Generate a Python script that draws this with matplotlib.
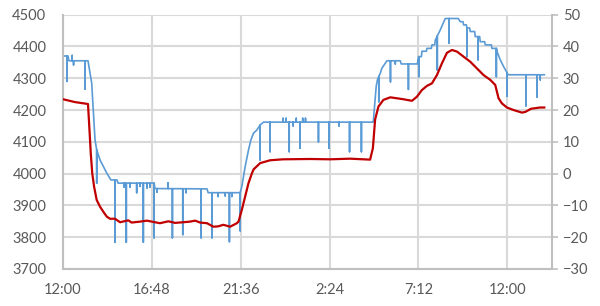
import matplotlib.pyplot as plt
import numpy as np

plt.rcParams['font.family'] = ['Lato', 'DejaVu Sans']

# time in hours after 12:00
blue_t = [0.00, 0.27, 0.32, 1.35, 1.55, 1.73, 1.82, 2.00, 2.36, 2.59, 2.92, 2.97,
          4.92, 4.97, 7.78, 7.84, 9.57, 9.66, 9.84, 10.02, 10.15, 10.29, 10.47,
          10.65, 10.83, 16.76, 16.92, 16.99, 17.14, 17.23, 17.41, 17.50, 18.22,
          18.27, 19.14, 19.21, 19.36, 19.39, 19.63, 19.66, 19.90, 19.93, 20.08,
          20.11, 20.38, 20.65, 21.35, 21.46, 21.61, 21.64, 21.79, 21.82, 21.97,
          22.00, 22.24, 22.27, 22.51, 22.54, 22.78, 22.81, 23.14, 23.17, 23.41,
          23.44, 23.62, 23.80, 23.98, 24.05, 26.00]
blue_v = [4370, 4370, 4355, 4355, 4285, 4106, 4075, 4043, 4002, 3980, 3980, 3970,
          3970, 3953, 3952, 3940, 3940, 3959, 4022, 4074, 4106, 4127, 4137,
          4153, 4162, 4162, 4275, 4296, 4316, 4332, 4347, 4355, 4355,
          4345, 4345, 4368, 4368, 4385, 4385, 4394, 4394, 4405, 4405,
          4420, 4452, 4488, 4488, 4478, 4478, 4468, 4468, 4458, 4458,
          4447, 4447, 4431, 4431, 4415, 4415, 4405, 4405, 4394, 4394,
          4385, 4358, 4337, 4318, 4311, 4311]

# short drops (and a few blips) in the blue series
spike_t = [0.22, 0.49, 0.57, 1.19, 1.82, 2.81, 3.30, 3.42, 3.62, 3.98, 4.16,
           4.34, 4.54, 4.70, 4.92, 5.08, 5.68, 5.91, 6.47, 6.65, 7.46, 8.05,
           8.38, 8.76, 8.99, 9.12, 9.57, 10.65, 11.19, 11.89, 12.05, 12.22,
           12.43, 12.60, 12.81, 12.95, 13.10, 13.80, 14.37, 14.91, 15.48,
           16.12, 17.06, 17.69, 17.95, 18.66, 19.22, 20.22, 20.86, 21.82,
           22.42, 23.41, 23.98, 25.01, 25.61, 25.78]
spike_v = [4290, 4372, 4342, 4266, 3970, 3784, 3958, 3784, 3958, 3940, 3960,
           3784, 3955, 3958, 3798, 3942, 3971, 3798, 3808, 3940, 3798, 3798,
           3928, 3930, 3786, 3928, 3820, 4043, 4069, 4174, 4174, 4069,
           4150, 4174, 4080, 4174, 4174, 4100, 4080, 4150, 4069,
           4069, 4226, 4289, 4345, 4265, 4305, 4326, 4410, 4368,
           4358, 4305, 4243, 4213, 4241, 4295]

red_t = [0.00, 0.65, 1.35, 1.42, 1.50, 1.58, 1.68, 1.82, 2.00, 2.18, 2.36, 2.54,
         2.81, 3.08, 3.30, 3.53, 3.71, 4.16, 4.54, 4.88, 5.24, 5.69, 6.05, 6.49,
         6.86, 7.14, 7.41, 7.78, 8.12, 8.38, 8.66, 9.03, 9.39, 9.48, 9.66, 9.84,
         10.02, 10.20, 10.29, 10.65, 11.19, 11.89, 13.35, 14.43, 15.51, 16.59,
         16.74, 16.86, 17.04, 17.31, 17.68, 18.04, 18.39, 18.85, 19.12, 19.39,
         19.66, 19.93, 20.20, 20.47, 20.74, 21.01, 21.28, 21.64, 22.00, 22.36,
         22.72, 23.08, 23.35, 23.53, 23.71, 23.98, 24.34, 24.79, 24.97, 25.28,
         25.78, 26.00]
red_v = [23.4, 22.5, 21.9, 14.8, 6.4, 0.1, -4.1, -8.3, -10.4, -12.0, -13.5, -14.2,
         -14.2, -15.3, -15.0, -14.7, -15.4, -15.1, -14.8, -15.2, -15.6, -15.0, -15.5, -15.3,
         -15.1, -14.8, -15.4, -15.6, -16.7, -16.6, -16.1, -16.7, -15.6, -15.1, -11.4, -7.2,
         -3.0, 0.0, 1.3, 3.3, 4.2, 4.5, 4.6, 4.5, 4.7, 4.4,
         8.0, 17.0, 21.1, 23.2, 24.0, 23.7, 23.4, 22.9, 24.2, 26.3,
         27.6, 28.4, 31.0, 34.7, 38.0, 38.9, 38.4, 36.8, 35.2, 33.1,
         31.0, 29.5, 27.9, 23.7, 22.1, 20.8, 20.0, 19.2, 19.4, 20.4,
         20.8, 20.8]

tick_hours = [0, 4.8, 9.6, 14.4, 19.2, 24.0]
tick_labels = ['12:00', '16:48', '21:36', '2:24', '7:12', '12:00']

# put the spikes into the blue line (base, drop, base at the same time)
pts = [(t, 0, v) for t, v in zip(blue_t, blue_v)]
for t, v in zip(spike_t, spike_v):
    base = np.interp(t, blue_t, blue_v)
    pts += [(t, 1, base), (t, 2, v), (t, 3, base)]
pts.sort(key=lambda p: (p[0], p[1]))
xs = [p[0] for p in pts]
ys = [p[2] for p in pts]

grid_c = '#d9d9d9'
text_c = '#595959'

fig = plt.figure(figsize=(6, 3.06), dpi=100)
ax = fig.add_axes([0.105, 0.121, 0.8145, 0.831])
ax.plot(xs, ys, color='#5b9bd5', lw=1.2)
ax.set_xlim(0, 26.4)
ax.set_ylim(3700, 4500)
ax.set_yticks(np.arange(3700, 4501, 100))
ax.set_xticks(tick_hours)
ax.set_xticklabels(tick_labels)
ax.grid(True, color=grid_c, lw=1.5)
ax.set_axisbelow(True)
for s in ['top', 'right']:
    ax.spines[s].set_visible(False)
for s in ['left', 'bottom']:
    ax.spines[s].set_color('#bfbfbf')
    ax.spines[s].set_linewidth(1.5)
ax.tick_params(axis='both', length=0, colors=text_c, labelsize=10.5)
ax.tick_params(axis='y', pad=12)
ax.tick_params(axis='x', pad=10)

ax2 = ax.twinx()
ax2.plot(red_t, red_v, color='#c00000', lw=1.6)
ax2.set_ylim(-30, 50)
ax2.set_yticks(np.arange(-30, 51, 10))
for s in ['top', 'left', 'bottom']:
    ax2.spines[s].set_visible(False)
ax2.spines['right'].set_color('#bfbfbf')
ax2.spines['right'].set_linewidth(1.5)
ax2.tick_params(axis='y', length=4, width=1.2, colors=text_c, labelsize=10.5, pad=4)
ax2.tick_params(axis='y', color='#bfbfbf')

fig.savefig('out.png', dpi=100)
